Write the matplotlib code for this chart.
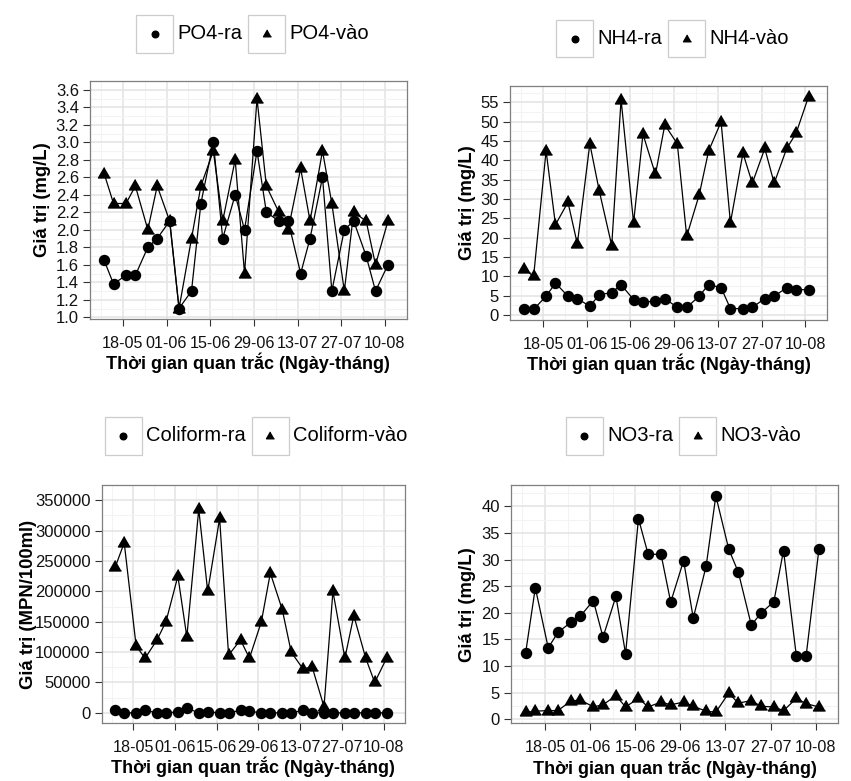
import matplotlib
matplotlib.use("Agg")
import matplotlib.pyplot as plt
import matplotlib.dates as mdates
from matplotlib.legend_handler import HandlerLine2D
from matplotlib.patches import Rectangle
from matplotlib.lines import Line2D
import datetime as dt

plt.rcParams['font.family'] = ['Liberation Sans', 'DejaVu Sans']

# ---------------- data ----------------
dates_str = ["2014-05-12", "2014-05-15", "2014-05-19", "2014-05-22", "2014-05-26", "2014-05-29",
             "2014-06-02", "2014-06-05", "2014-06-09", "2014-06-12", "2014-06-16", "2014-06-19",
             "2014-06-23", "2014-06-26", "2014-06-30", "2014-07-03", "2014-07-07", "2014-07-10",
             "2014-07-14", "2014-07-17", "2014-07-21", "2014-07-24", "2014-07-28", "2014-07-31",
             "2014-08-04", "2014-08-07", "2014-08-11"]

po4_ra = [1.65, 1.38, 1.48, 1.48, 1.8, 1.9, 2.1, 1.1, 1.3, 2.3, 3.0, 1.9, 2.4, 2.0, 2.9,
          2.2, 2.1, 2.1, 1.5, 1.9, 2.6, 1.3, 2.0, 2.1, 1.7, 1.3, 1.6]
po4_vao = [2.64, 2.3, 2.3, 2.5, 2.0, 2.5, 2.1, 1.1, 1.9, 2.5, 2.9, 2.1, 2.8, 1.5, 3.5,
           2.5, 2.2, 2.0, 2.7, 2.1, 2.9, 2.3, 1.3, 2.2, 2.1, 1.6, 2.1]

nh4_ra = [1.7, 1.5, 4.9, 8.3, 4.9, 4.3, 2.3, 5.3, 5.8, 7.9, 4.0, 3.3, 3.7, 4.3, 2.0,
          2.0, 4.9, 7.9, 7.1, 1.7, 1.7, 2.0, 4.3, 4.9, 7.1, 6.6, 6.6]
nh4_vao = [12.0, 10.0, 42.5, 23.4, 29.2, 18.4, 44.3, 32.2, 18.0, 55.7, 23.9, 46.8, 36.4, 49.2,
           44.3, 20.4, 31.1, 42.4, 50.0, 23.9, 41.9, 34.1, 43.1, 34.1, 43.1, 47.0, 56.5]

coli_ra = [4000, 0, 0, 4000, 0, 0, 1500, 7700, 0, 1500, 0, 0, 4000, 2500, 0,
           0, 0, 0, 4000, 0, 0, 0, 0, 0, 0, 0, 0]
coli_vao = [240000, 280000, 110000, 90000, 120000, 150000, 225000, 125000, 335000, 200000,
            320000, 95000, 120000, 90000, 150000, 230000, 170000, 100000, 72000, 76000,
            10000, 200000, 90000, 160000, 90000, 50000, 90000]

no3_ra = [12.5, 24.7, 13.4, 16.3, 18.2, 19.4, 22.3, 15.4, 23.1, 12.3, 37.7, 31.0, 31.0, 22.0,
          29.8, 19.0, 28.8, 42.0, 32.0, 27.6, 17.7, 19.9, 22.1, 31.7, 11.8, 11.8, 32.0]
no3_vao = [1.25, 1.5, 1.6, 1.6, 3.4, 3.6, 2.3, 2.7, 4.4, 2.3, 3.9, 2.3, 3.2, 2.7, 3.2,
           2.4, 1.5, 1.3, 4.9, 3.0, 3.5, 2.4, 2.3, 1.6, 3.9, 2.9, 2.3]

x_tick_dates = ["2014-05-18", "2014-06-01", "2014-06-15", "2014-06-29", "2014-07-13",
                "2014-07-27", "2014-08-10"]
x_minor_dates = ["2014-05-11", "2014-05-25", "2014-06-08", "2014-06-22", "2014-07-06",
                 "2014-07-20", "2014-08-03", "2014-08-17"]

po4_yticks = [1.0, 1.2, 1.4, 1.6, 1.8, 2.0, 2.2, 2.4, 2.6, 2.8, 3.0, 3.2, 3.4, 3.6]
nh4_yticks = [0, 5, 10, 15, 20, 25, 30, 35, 40, 45, 50, 55]
coli_yticks = [0, 50000, 100000, 150000, 200000, 250000, 300000, 350000]
no3_yticks = [0, 5, 10, 15, 20, 25, 30, 35, 40]

xlabel = "Thời gian quan trắc (Ngày-tháng)"

# ---------------- helpers ----------------
W, H = 851, 781
fig = plt.figure(figsize=(W / 100, H / 100), dpi=100)

def to_dates(lst):
    return [dt.datetime.strptime(s, "%Y-%m-%d") for s in lst]

dates = to_dates(dates_str)
TRI = [(0, 1), (-0.866, -0.5), (0.866, -0.5)]


class BoxedHandler(HandlerLine2D):
    def create_artists(self, legend, orig_handle, xdescent, ydescent, width, height,
                       fontsize, trans):
        rect = Rectangle((-xdescent, -ydescent - 1.5), width, height + 1.5, facecolor='white',
                         edgecolor='#cccccc', lw=0.9, transform=trans)
        m = Line2D([width / 2 - xdescent], [height / 2 - ydescent - 0.8],
                   marker=orig_handle.get_marker(), ms=orig_handle.get_markersize() * 0.66,
                   color='black', ls='none', transform=trans)
        return [rect, m]


def panel(box, ra, vao, name, yticks, ylabel, yfmt, legend_center, ylabel_x):
    x0, y0, x1, y1 = box
    ax = fig.add_axes([x0 / W, 1 - y1 / H, (x1 - x0) / W, (y1 - y0) / H])
    l1, = ax.plot(dates, ra, color='black', lw=0.9, marker='o', ms=7.2, label=name + "-ra", zorder=3)
    l2, = ax.plot(dates, vao, color='black', lw=0.9, marker=TRI, ms=10.0, label=name + "-vào", zorder=3)
    ax.margins(x=0.05, y=0.05)
    ax.set_xticks(to_dates(x_tick_dates))
    ax.set_xticks(to_dates(x_minor_dates), minor=True)
    ax.xaxis.set_major_formatter(mdates.DateFormatter('%d-%m'))
    ax.set_yticks(yticks)
    step = yticks[1] - yticks[0]
    ax.set_yticks([v + step / 2 for v in yticks], minor=True)
    ax.set_yticklabels([yfmt(v) for v in yticks])
    ax.grid(which='major', color='#e3e3e3', lw=1.1, zorder=0)
    ax.grid(which='minor', color='#f3f3f3', lw=0.8, zorder=0)
    ax.set_axisbelow(True)
    for s in ax.spines.values():
        s.set_color('#7f7f7f')
        s.set_linewidth(0.9)
    ax.tick_params(which='major', length=5, width=0.8, color='#333333', labelsize=12,
                   labelcolor='#111111')
    ax.tick_params(axis='x', which='major', pad=7, labelsize=11.6)
    ax.tick_params(axis='y', which='major', pad=3)
    ax.tick_params(which='minor', length=0)
    ax.set_xlabel(xlabel, fontsize=13, fontweight='bold', labelpad=1.5)
    ax.set_ylabel(ylabel, fontsize=13.3, fontweight='bold')
    ax.yaxis.set_label_coords((ylabel_x - x0) / (x1 - x0), 0.5)
    lx, ly = legend_center
    fig.legend(handles=[l1, l2], loc='center', bbox_to_anchor=(lx / W, 1 - ly / H),
               ncol=2, frameon=False, fontsize=14.5, handlelength=1.85, handleheight=2.35,
               handletextpad=0.2, columnspacing=0.3, borderpad=0, borderaxespad=0,
               handler_map={Line2D: BoxedHandler()})
    return ax


panel((90, 81, 406.7, 319), po4_ra, po4_vao, "PO4", po4_yticks, "Giá trị (mg/L)",
      lambda v: f"{v:.1f}", (252.5, 33), 51)
panel((510, 86, 827.3, 320), nh4_ra, nh4_vao, "NH4", nh4_yticks, "Giá trị (mg/L)",
      lambda v: f"{v:d}", (672.5, 37.5), 476)
panel((101.7, 485, 404.5, 723), coli_ra, coli_vao, "Coliform", coli_yticks,
      "Giá trị (MPN/100ml)", lambda v: f"{v:d}", (256, 435), 37)
panel((511, 485, 838.3, 723.3), no3_ra, no3_vao, "NO3", no3_yticks, "Giá trị (mg/L)",
      lambda v: f"{v:d}", (683.5, 435), 476)

fig.savefig("out.png", dpi=100)
